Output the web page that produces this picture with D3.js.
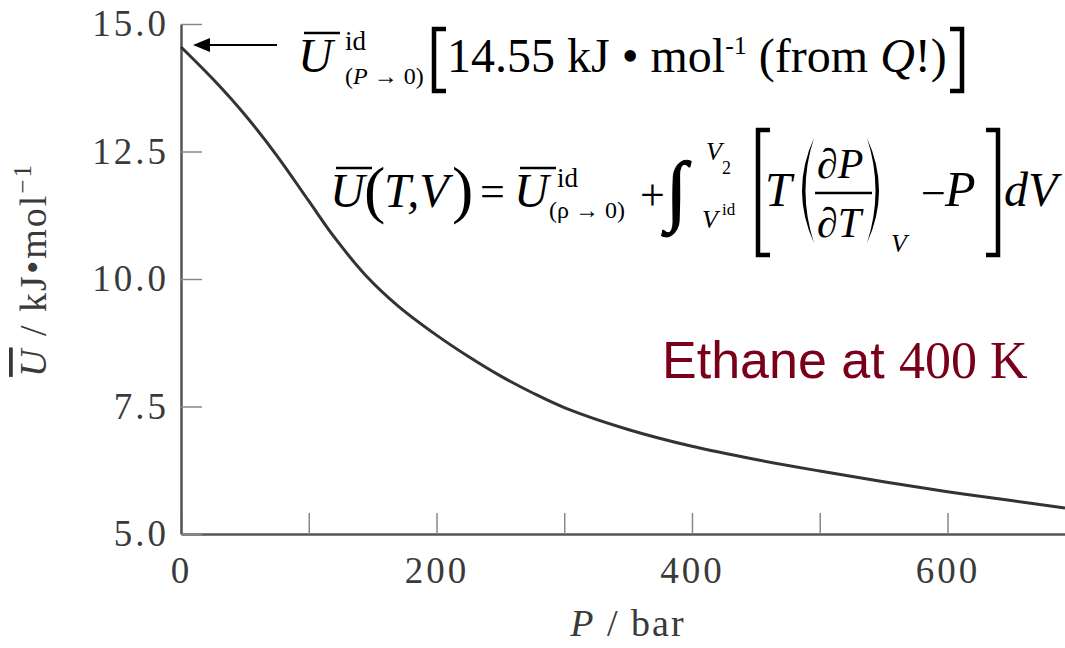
<!DOCTYPE html>
<html>
<head>
<meta charset="utf-8">
<script src="https://cdn.jsdelivr.net/npm/d3@7"></script>
<style>
  body { margin: 0; background: #fff; }
  svg { display: block; }
  .serif { font-family: 'Liberation Serif', 'DejaVu Serif', serif; }
  .sans { font-family: 'Liberation Sans', Arial, sans-serif; }
</style>
</head>
<body>
<div id="chart"></div>
<script>
// internal energy of ethane at 400 K vs pressure
let pressure = [0, 25, 50, 75, 100, 120, 145, 170, 200, 225, 250, 275, 300, 350, 400, 450, 500, 550, 600, 650, 692]
let energy = [14.55, 13.92, 13.22, 12.42, 11.53, 10.82, 10.06, 9.47, 8.9, 8.48, 8.1, 7.77, 7.48, 7.05, 6.72, 6.46, 6.235, 6.025, 5.83, 5.655, 5.51]
let yTicks = [5, 7.5, 10, 12.5, 15]
let xTicks = [0, 100, 200, 300, 400, 500, 600]
let xLabelled = [0, 200, 400, 600]

let width = 1065
let height = 648
let margin = { top: 24, left: 181, right: 0, bottom: 114 }

let svg = d3.select('#chart')
  .append('svg')
  .attr('width', width)
  .attr('height', height)

let x = d3.scaleLinear().domain([0, 692]).range([margin.left, width - margin.right])
let y = d3.scaleLinear().domain([5, 15]).range([height - margin.bottom, margin.top])

let points = pressure.map((p, i) => ({ p: p, u: energy[i] }))

// axes
let xAxis = d3.axisBottom(x)
  .tickValues(xTicks)
  .tickSize(-21)
  .tickSizeOuter(0)
  .tickPadding(23)
  .tickFormat(d => xLabelled.includes(d) ? d : '')

let yAxis = d3.axisLeft(y)
  .tickValues(yTicks)
  .tickSize(-21)
  .tickSizeOuter(0)
  .tickPadding(12)
  .tickFormat(d3.format('.1f'))

let gx = svg.append('g')
  .attr('transform', `translate(0,${y(5)})`)
  .call(xAxis)

let gy = svg.append('g')
  .attr('transform', `translate(${x(0)},0)`)
  .call(yAxis)

for (let g of [gx, gy]) {
  g.attr('font-family', null)
  g.select('.domain').attr('stroke', '#555').attr('stroke-width', 2.5)
  g.selectAll('.tick line').attr('stroke', '#888').attr('stroke-width', 1.5)
  g.selectAll('.tick text')
    .attr('class', 'serif')
    .attr('fill', '#3a3a3a')
    .attr('font-size', 37)
    .attr('letter-spacing', 3)
}

// curve
let line = d3.line()
  .x(d => x(d.p))
  .y(d => y(d.u))
  .curve(d3.curveCatmullRom.alpha(0.5))

svg.append('path')
  .datum(points)
  .attr('d', line)
  .attr('fill', 'none')
  .attr('stroke', '#333')
  .attr('stroke-width', 3)

// axis titles
svg.append('text')
  .attr('class', 'serif')
  .attr('x', 628)
  .attr('y', 636)
  .attr('text-anchor', 'middle')
  .attr('font-size', 38)
  .attr('letter-spacing', 2)
  .attr('fill', '#3a3a3a')
  .html('<tspan font-style="italic">P</tspan> / bar')

let ytitle = svg.append('text')
  .attr('class', 'serif')
  .attr('transform', 'translate(46,270) rotate(-90)')
  .attr('text-anchor', 'middle')
  .attr('font-size', 38)
  .attr('letter-spacing', 2)
  .attr('fill', '#3a3a3a')
ytitle.append('tspan').attr('font-style', 'italic').style('text-decoration', 'overline').text('U')
ytitle.append('tspan').text(' / kJ\u2022mol')
ytitle.append('tspan').attr('font-size', 25).attr('dy', -15).text('\u22121')

// ---- annotations ----
let ann = svg.append('g').attr('class', 'serif').attr('fill', '#000')

function bar(x1, x2, yy) {
  ann.append('line')
    .attr('x1', x1).attr('x2', x2).attr('y1', yy).attr('y2', yy)
    .attr('stroke', '#000').attr('stroke-width', 2.5)
}
function label(tx, ty, size, txt, italic) {
  return ann.append('text')
    .attr('x', tx).attr('y', ty)
    .attr('font-size', size)
    .attr('font-style', italic ? 'italic' : 'normal')
    .text(txt)
}
function bracket(bx, y1, y2, side) {
  ann.append('path')
    .attr('d', `M${bx + side * 12},${y1}L${bx},${y1}L${bx},${y2}L${bx + side * 12},${y2}`)
    .attr('fill', 'none')
    .attr('stroke', '#000')
    .attr('stroke-width', 4.5)
}
function paren(px, y1, y2, side) {
  // crescent shaped big parenthesis, side 1 = "(", -1 = ")"
  let mid = (y1 + y2) / 2
  let tip = px + side * 14
  ann.append('path')
    .attr('d', `M${tip},${y1}Q${px - side * 10},${mid} ${tip},${y2}` +
      `Q${px - side * 3},${mid} ${tip},${y1}Z`)
    .attr('fill', '#000')
}

// arrow pointing at the zero-pressure value
let tipX = x(0) + 12
let tipY = y(energy[0]) - 2
ann.append('line')
  .attr('x1', 277).attr('x2', tipX + 14)
  .attr('y1', tipY).attr('y2', tipY)
  .attr('stroke', '#000').attr('stroke-width', 2)
ann.append('path')
  .attr('d', `M${tipX},${tipY}L${tipX + 17},${tipY - 7}L${tipX + 17},${tipY + 7}Z`)

// line 1
label(298, 72, 48, 'U', true)
bar(304, 340, 33)
label(345, 50, 27, 'id')
let sub1 = label(345, 84, 24, '(')
sub1.append('tspan').attr('font-style', 'italic').text('P')
sub1.append('tspan').text(' \u2192 0)')
bracket(434, 29, 91, 1)
let t1 = label(447, 72, 48, '14.55 kJ \u2022 mol')
t1.append('tspan').attr('font-size', 26).attr('dy', -18).text('-1')
t1.append('tspan').attr('dy', 18).text(' (from ')
t1.append('tspan').attr('font-style', 'italic').text('Q')
t1.append('tspan').text('!)')
bracket(962, 29, 91, -1)

// line 2
label(330, 207, 48, 'U', true)
bar(336, 372, 168)
label(364, 211, 64, '(')
label(384, 207, 48, 'T,V', true)
label(452, 211, 64, ')')
label(480, 206, 44, '=')
label(514, 207, 48, 'U', true)
bar(520, 556, 168)
label(557, 187, 27, 'id')
label(549, 218, 24, '(\u03c1 \u2192 0)')
label(640, 210, 44, '+')
label(666, 216, 78, '\u222b', true)
  .attr('stroke', '#000').attr('stroke-width', 1.2)
label(706, 160, 26, 'V', true)
label(722, 174, 18, '2')
label(702, 228, 26, 'V', true)
label(722, 215, 17, 'id')
bracket(758, 130, 255, 1)
label(765, 206, 48, 'T', true)
paren(800, 138, 243, 1)
let num = label(817, 178, 42, '\u2202')
num.append('tspan').attr('font-style', 'italic').text('P')
ann.append('line')
  .attr('x1', 815).attr('x2', 872).attr('y1', 193).attr('y2', 193)
  .attr('stroke', '#000').attr('stroke-width', 2.5)
let den = label(817, 237, 42, '\u2202')
den.append('tspan').attr('font-style', 'italic').text('T')
paren(881, 138, 243, -1)
label(891, 252, 26, 'V', true)
label(921, 208, 44, '\u2212')
label(945, 206, 50, 'P', true)
bracket(998, 130, 255, -1)
label(1004, 206, 48, 'dV', true)

// series label
let ethane = svg.append('text')
  .attr('x', 662)
  .attr('y', 378)
  .attr('font-size', 52)
  .attr('fill', '#7a0019')
ethane.append('tspan').attr('class', 'sans').text('Ethane at ')
ethane.append('tspan').attr('class', 'serif').text('400 K')
</script>
</body>
</html>
